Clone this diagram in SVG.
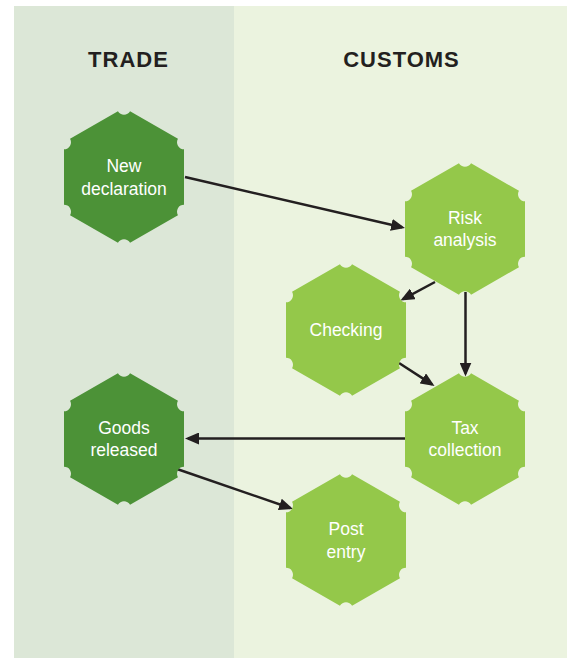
<svg xmlns="http://www.w3.org/2000/svg" width="570" height="658" viewBox="0 0 570 658">
<style>
.head{font-family:"Liberation Sans",Arial,sans-serif;font-weight:bold;font-size:22px;fill:#231f20;text-anchor:middle;letter-spacing:1px}
.lbl{font-family:"Liberation Sans",Arial,sans-serif;font-size:17.5px;fill:#ffffff;text-anchor:middle}
.dark{fill:#4c9237}
.light{fill:#94c84a}
.conn{stroke:#231f20;stroke-width:2.5;fill:none;marker-end:url(#ah)}
</style>
<defs>
<path id="hex" d="M-6.062,-65.78 A7,7 0 0 0 6.062,-65.78 L53.938,-38.14 A7,7 0 0 0 60,-27.64 L60,27.64 A7,7 0 0 0 53.938,38.14 L6.062,65.78 A7,7 0 0 0 -6.062,65.78 L-53.938,38.14 A7,7 0 0 0 -60,27.64 L-60,-27.64 A7,7 0 0 0 -53.938,-38.14 Z"/>
<marker id="ah" viewBox="0 0 14 12" refX="11" refY="6" markerWidth="14" markerHeight="12" markerUnits="userSpaceOnUse" orient="auto">
<path d="M0,0 L14,6 L0,12 Z" fill="#231f20"/>
</marker>
</defs>
<g id="panels">
<rect x="14" y="6" width="220" height="652" fill="#dce7d7"/>
<rect x="234" y="6" width="333" height="652" fill="#ebf3df"/>
<text class="head" x="128.5" y="67">TRADE</text>
<text class="head" x="401.5" y="67">CUSTOMS</text>
</g>
<g id="connectors">
<line class="conn" x1="185" y1="177" x2="402.1" y2="227.3"/>
<line class="conn" x1="435" y1="282" x2="403.1" y2="299.1"/>
<line class="conn" x1="465.5" y1="292" x2="465.5" y2="373.5"/>
<line class="conn" x1="399" y1="363" x2="432" y2="384.4"/>
<line class="conn" x1="405" y1="438.5" x2="188" y2="438.5"/>
<line class="conn" x1="177" y1="469" x2="290.2" y2="508"/>
</g>
<g id="new-declaration">
<use href="#hex" class="dark" x="124" y="177"/>
<text class="lbl" x="124" y="172">New</text>
<text class="lbl" x="124" y="194.5">declaration</text>
</g>
<g id="risk-analysis">
<use href="#hex" class="light" x="465" y="229"/>
<text class="lbl" x="465" y="223.5">Risk</text>
<text class="lbl" x="465" y="246">analysis</text>
</g>
<g id="checking">
<use href="#hex" class="light" x="346" y="330"/>
<text class="lbl" x="346" y="336">Checking</text>
</g>
<g id="tax-collection">
<use href="#hex" class="light" x="465" y="439"/>
<text class="lbl" x="465" y="434">Tax</text>
<text class="lbl" x="465" y="456">collection</text>
</g>
<g id="goods-released">
<use href="#hex" class="dark" x="124" y="439"/>
<text class="lbl" x="124" y="434">Goods</text>
<text class="lbl" x="124" y="456">released</text>
</g>
<g id="post-entry">
<use href="#hex" class="light" x="346" y="540"/>
<text class="lbl" x="346" y="534.5">Post</text>
<text class="lbl" x="346" y="558">entry</text>
</g>
</svg>
